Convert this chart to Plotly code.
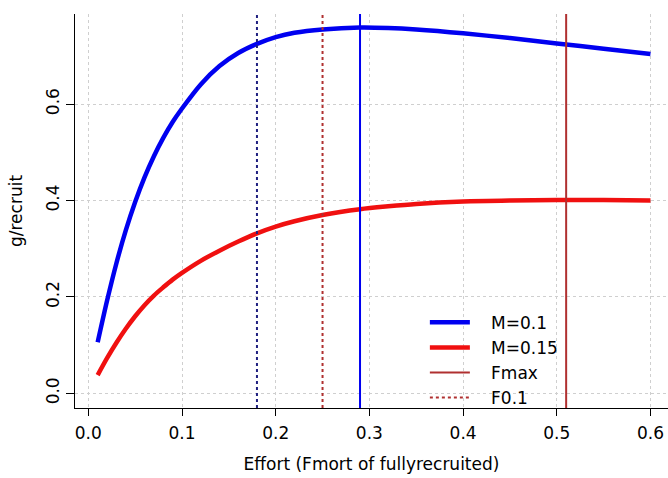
import plotly.graph_objects as go

# Data
effort = [0.01, 0.02, 0.03, 0.04, 0.05, 0.06, 0.07, 0.08, 0.09, 0.10,
          0.12, 0.14, 0.16, 0.18, 0.20, 0.22, 0.25, 0.29, 0.32, 0.35,
          0.40, 0.45, 0.50, 0.55, 0.60]
ypr_m010 = [0.106, 0.192, 0.270, 0.338, 0.397, 0.448, 0.492, 0.530, 0.563, 0.591,
            0.641, 0.679, 0.706, 0.725, 0.739, 0.748, 0.755, 0.759, 0.758, 0.755,
            0.747, 0.737, 0.726, 0.715, 0.704]
ypr_m015 = [0.038, 0.073, 0.105, 0.134, 0.160, 0.183, 0.203, 0.220, 0.236, 0.250,
            0.275, 0.296, 0.315, 0.332, 0.346, 0.357, 0.370, 0.382, 0.388, 0.393,
            0.398, 0.400, 0.401, 0.401, 0.400]
series_names = ["M=0.1", "M=0.15"]
ref_names = ["Fmax", "F0.1"]
fmax_values = [0.29, 0.51]      # blue, red
f01_values = [0.18, 0.25]       # blue, red
x_ticks = [0.0, 0.1, 0.2, 0.3, 0.4, 0.5, 0.6]
y_ticks = [0.0, 0.2, 0.4, 0.6]

BLUE = "#0000F0"
RED = "#F01010"
BROWN = "#B03030"
NAVY = "#202080"
PAD = "\u00a0\u00a0\u00a0"
WIDE = "DejaVu Sans, Verdana, sans-serif"
NARROW = "Liberation Sans, Arial, sans-serif"

fig = go.Figure()
fig.add_trace(go.Scatter(x=effort, y=ypr_m010, mode="lines", name=PAD + series_names[0],
                         line=dict(color=BLUE, width=4.5, shape="spline", smoothing=0.8)))
fig.add_trace(go.Scatter(x=effort, y=ypr_m015, mode="lines", name=PAD + series_names[1],
                         line=dict(color=RED, width=4.5, shape="spline", smoothing=0.8)))
# legend-only entries
fig.add_trace(go.Scatter(x=[None], y=[None], mode="lines", name=PAD + ref_names[0],
                         line=dict(color=BROWN, width=2)))
fig.add_trace(go.Scatter(x=[None], y=[None], mode="lines", name=PAD + ref_names[1],
                         line=dict(color=BROWN, width=2, dash="dot")))

vcols = [BLUE, BROWN]
fcols = [NAVY, BROWN]
for xv, c in zip(fmax_values, vcols):
    fig.add_shape(type="line", xref="x", yref="y domain", x0=xv, x1=xv, y0=0, y1=1,
                  line=dict(color=c, width=2))
for xv, c in zip(f01_values, fcols):
    fig.add_shape(type="line", xref="x", yref="y domain", x0=xv, x1=xv, y0=0, y1=1,
                  line=dict(color=c, width=2, dash="dot"))

fig.update_layout(
    width=668, height=478,
    margin=dict(l=75, r=0, t=14, b=70),
    plot_bgcolor="white", paper_bgcolor="white",
    font=dict(family=WIDE, size=17, color="black"),
    showlegend=True,
    legend=dict(x=0.59, y=0.262, xanchor="left", yanchor="top",
                bgcolor="rgba(0,0,0,0)",
                font=dict(family=WIDE, size=17, color="black"),
                tracegroupgap=0, itemwidth=40),
)
fig.update_xaxes(range=[-0.0142, 0.6187], tickvals=x_ticks, tickformat=".1f",
                 automargin=False, ticklabelstandoff=3,
                 tickfont=dict(family=WIDE, size=17, color="black"),
                 showline=True, linecolor="black", linewidth=1,
                 ticks="outside", ticklen=7, tickcolor="black",
                 showgrid=True, gridcolor="#CFCFCF", griddash="dot", gridwidth=1,
                 zeroline=False,
                 title=dict(text="Effort (Fmort of fullyrecruited)", standoff=15,
                            font=dict(family=WIDE, size=17, color="black")))
fig.update_yaxes(range=[-0.0303, 0.787], tickvals=y_ticks, tickformat=".1f",
                 automargin=False,
                 tickfont=dict(family=WIDE, size=17, color="black"),
                 showline=True, linecolor="black", linewidth=1,
                 ticks="outside", ticklen=8, tickcolor="black", tickangle=-90,
                 showgrid=True, gridcolor="#CFCFCF", griddash="dot", gridwidth=1,
                 zeroline=False,
                 title=dict(text="g/recruit", standoff=16,
                            font=dict(family=WIDE, size=17, color="black")))

fig.write_html("out.html", config={"displayModeBar": False},
               post_script="document.body.style.margin='0';")
